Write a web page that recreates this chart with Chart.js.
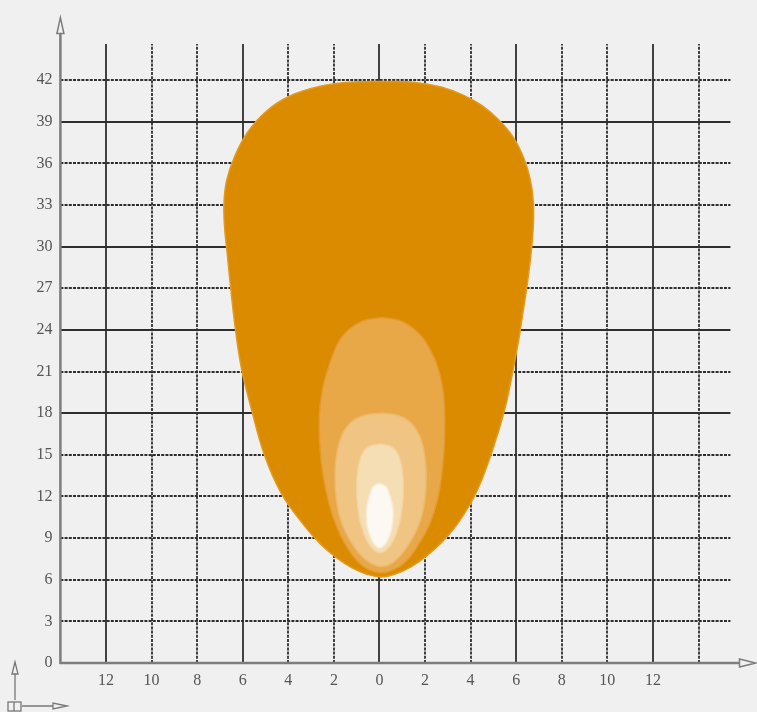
<!DOCTYPE html>
<html lang="en">
<head>
<title>Beam Pattern</title>
<script src="https://cdn.jsdelivr.net/npm/chart.js"></script>
<style>
  html, body { margin: 0; background: #f0f0f0; }
  #wrap { width: 757px; height: 712px; }
</style>
</head>
<body>
<div id="wrap"><canvas id="beamChart"></canvas></div>
<script>
// tick labels / grid positions
const xTicks = [-12, -10, -8, -6, -4, -2, 0, 2, 4, 6, 8, 10, 12];
const yTicks = [0, 3, 6, 9, 12, 15, 18, 21, 24, 27, 30, 33, 36, 39, 42];
const gridX = [-12, -10, -8, -6, -4, -2, 0, 2, 4, 6, 8, 10, 12, 14];
const gridY = [3, 6, 9, 12, 15, 18, 21, 24, 27, 30, 33, 36, 39, 42];

// beam contours, [x, y] pairs
const outerBeam = [[0.3,41.9],[1.5,41.85],[2.7,41.5],[3.7,40.9],[4.5,40.15],[5.25,39.1],[5.9,37.8],[6.35,36.3],[6.62,34.8],[6.75,33.2],[6.75,31.5],[6.65,29.5],[6.5,27.5],[6.3,25.3],[6.1,23.2],[5.85,21.0],[5.5,18.3],[4.95,15.3],[4.25,12.3],[3.5,10.2],[2.8,8.8],[2.1,7.75],[1.4,6.95],[0.75,6.45],[0.1,6.2],[-0.55,6.4],[-1.2,6.85],[-1.9,7.6],[-2.6,8.6],[-3.3,9.9],[-4.3,12.2],[-5.05,15.0],[-5.65,18.5],[-6.05,21.2],[-6.3,23.8],[-6.5,26.6],[-6.68,29.5],[-6.8,31.5],[-6.82,33.2],[-6.7,34.8],[-6.35,36.5],[-5.8,38.2],[-5.0,39.7],[-4.0,40.8],[-2.6,41.55],[-1.2,41.86],[0.3,41.9]];
const band1 = [[0.1,24.9],[1.0,24.6],[1.75,23.7],[2.25,22.5],[2.6,21.1],[2.8,19.5],[2.87,17.8],[2.85,15.8],[2.75,13.8],[2.55,11.8],[2.2,10.0],[1.7,8.5],[1.15,7.3],[0.6,6.7],[0.1,6.5],[-0.45,6.7],[-0.95,7.3],[-1.45,8.4],[-1.9,9.9],[-2.25,11.7],[-2.5,13.8],[-2.62,15.8],[-2.64,17.8],[-2.5,19.7],[-2.2,21.5],[-1.65,23.5],[-0.8,24.6],[0.1,24.9]];
const band2 = [[0.1,18.0],[0.8,17.85],[1.35,17.35],[1.75,16.4],[1.97,15.1],[2.05,13.5],[2.0,11.9],[1.8,10.3],[1.45,9.0],[1.0,7.9],[0.55,7.2],[0.1,6.95],[-0.4,7.2],[-0.9,7.9],[-1.35,9.0],[-1.7,10.3],[-1.9,11.9],[-1.95,13.5],[-1.87,15.1],[-1.65,16.4],[-1.25,17.35],[-0.65,17.85],[0.1,18.0]];
const band3 = [[0.05,15.8],[0.55,15.55],[0.85,14.9],[1.0,13.9],[1.05,12.6],[1.0,11.2],[0.85,9.9],[0.6,8.8],[0.3,8.15],[0.05,7.95],[-0.25,8.15],[-0.55,8.8],[-0.8,9.9],[-0.95,11.2],[-1.0,12.6],[-0.95,13.9],[-0.8,14.9],[-0.5,15.55],[0.05,15.8]];
const band4 = [[0.02,12.95],[0.3,12.7],[0.47,12.0],[0.6,11.0],[0.57,10.0],[0.43,9.1],[0.22,8.5],[0.02,8.3],[-0.2,8.5],[-0.4,9.1],[-0.55,10.0],[-0.57,11.0],[-0.45,12.0],[-0.28,12.7],[0.02,12.95]];

const solidX = [-12, -6, 0, 6, 12];
const solidY = [39, 30, 24, 18];
const BG = '#f0f0f0';

function shape(points, color, edge) {
  return {
    data: points.map(p => ({ x: p[0], y: p[1] })),
    showLine: true,
    fill: 'shape',
    backgroundColor: color,
    borderColor: edge,
    borderWidth: 1.5,
    pointRadius: 0,
    tension: 0.4
  };
}

function arrowHead(ctx, tip, base, dir) {
  ctx.beginPath();
  if (dir === 'up') {
    ctx.moveTo(tip.x, tip.y);
    ctx.lineTo(tip.x - 3.5, base);
    ctx.lineTo(tip.x + 3.5, base);
  } else {
    ctx.moveTo(tip.x, tip.y);
    ctx.lineTo(base, tip.y - 4);
    ctx.lineTo(base, tip.y + 4);
  }
  ctx.closePath();
  ctx.fillStyle = BG;
  ctx.fill();
  ctx.stroke();
}

const gridPlugin = {
  id: 'beamGrid',
  beforeDatasetsDraw(chart) {
    const { ctx, scales: { x, y } } = chart;
    ctx.save();
    ctx.strokeStyle = '#2e2e2e';
    ctx.lineWidth = 1.8;
    gridX.forEach(v => {
      const px = Math.round(x.getPixelForValue(v));
      ctx.setLineDash(solidX.includes(v) ? [] : [3, 1.2]);
      ctx.beginPath();
      ctx.moveTo(px, y.getPixelForValue(0));
      ctx.lineTo(px, y.getPixelForValue(44.6));
      ctx.stroke();
    });
    gridY.forEach(v => {
      const py = Math.round(y.getPixelForValue(v));
      ctx.setLineDash(solidY.includes(v) ? [] : [3, 1.2]);
      ctx.beginPath();
      ctx.moveTo(x.getPixelForValue(-14), py);
      ctx.lineTo(x.getPixelForValue(15.4), py);
      ctx.stroke();
    });
    // axes with open arrowheads
    ctx.setLineDash([]);
    ctx.strokeStyle = '#7d7d7d';
    ctx.lineWidth = 2.5;
    const x0 = x.getPixelForValue(-14), y0 = y.getPixelForValue(0);
    const yTop = y.getPixelForValue(46.5), xEnd = x.getPixelForValue(16.5);
    ctx.beginPath();
    ctx.moveTo(x0, y0 + 1);
    ctx.lineTo(x0, yTop + 14);
    ctx.moveTo(x0 - 1, y0);
    ctx.lineTo(xEnd - 15, y0);
    ctx.stroke();
    ctx.lineWidth = 1.5;
    arrowHead(ctx, { x: x0, y: yTop }, yTop + 16, 'up');
    arrowHead(ctx, { x: xEnd, y: y0 }, xEnd - 16, 'right');
    ctx.restore();
  },
  afterDraw(chart) {
    // small orientation glyph in the corner
    const ctx = chart.ctx;
    ctx.save();
    ctx.strokeStyle = '#777';
    ctx.lineWidth = 1.3;
    ctx.fillStyle = BG;
    ctx.beginPath();
    ctx.moveTo(15, 700); ctx.lineTo(15, 672);
    ctx.moveTo(22, 706); ctx.lineTo(55, 706);
    ctx.stroke();
    ctx.beginPath();
    ctx.moveTo(15, 662); ctx.lineTo(12, 674); ctx.lineTo(18, 674); ctx.closePath();
    ctx.fill(); ctx.stroke();
    ctx.beginPath();
    ctx.moveTo(67, 706); ctx.lineTo(53, 703); ctx.lineTo(53, 709); ctx.closePath();
    ctx.fill(); ctx.stroke();
    ctx.strokeRect(8, 702, 13, 9);
    ctx.beginPath(); ctx.moveTo(14, 702); ctx.lineTo(14, 711); ctx.stroke();
    ctx.restore();
  }
};

const tickFont = { family: "'Liberation Serif', 'DejaVu Serif', serif", size: 16 };

new Chart(document.getElementById('beamChart'), {
  type: 'scatter',
  data: {
    datasets: [
      shape(band4, '#fcf9f3', '#f9ecd6'),
      shape(band3, '#f6deb4', '#f3d3a0'),
      shape(band2, '#f0c482', '#edb96c'),
      shape(band1, '#e9a848', '#e49a2e'),
      shape(outerBeam, '#db8b00', '#e39a20')
    ]
  },
  options: {
    responsive: true,
    maintainAspectRatio: false,
    animation: false,
    events: [],
    layout: { padding: { left: 0, right: 1.5, top: 13, bottom: 0 } },
    plugins: { legend: { display: false }, tooltip: { enabled: false } },
    scales: {
      x: {
        type: 'linear',
        min: -14,
        max: 16.5,
        grid: { display: false, drawTicks: false },
        border: { display: false },
        afterBuildTicks: s => { s.ticks = xTicks.map(v => ({ value: v })); },
        afterFit: s => { s.height = 49; },
        ticks: {
          padding: 8,
          color: '#555',
          font: tickFont,
          maxRotation: 0,
          autoSkip: false,
          callback: v => String(Math.abs(v))
        }
      },
      y: {
        type: 'linear',
        min: 0,
        max: 46.5,
        grid: { display: false, drawTicks: false },
        border: { display: false },
        afterBuildTicks: s => { s.ticks = yTicks.map(v => ({ value: v })); },
        afterFit: s => { s.width = 60.4; },
        ticks: { padding: 8, color: '#555', font: tickFont, autoSkip: false }
      }
    }
  },
  plugins: [gridPlugin]
});
</script>
</body>
</html>
